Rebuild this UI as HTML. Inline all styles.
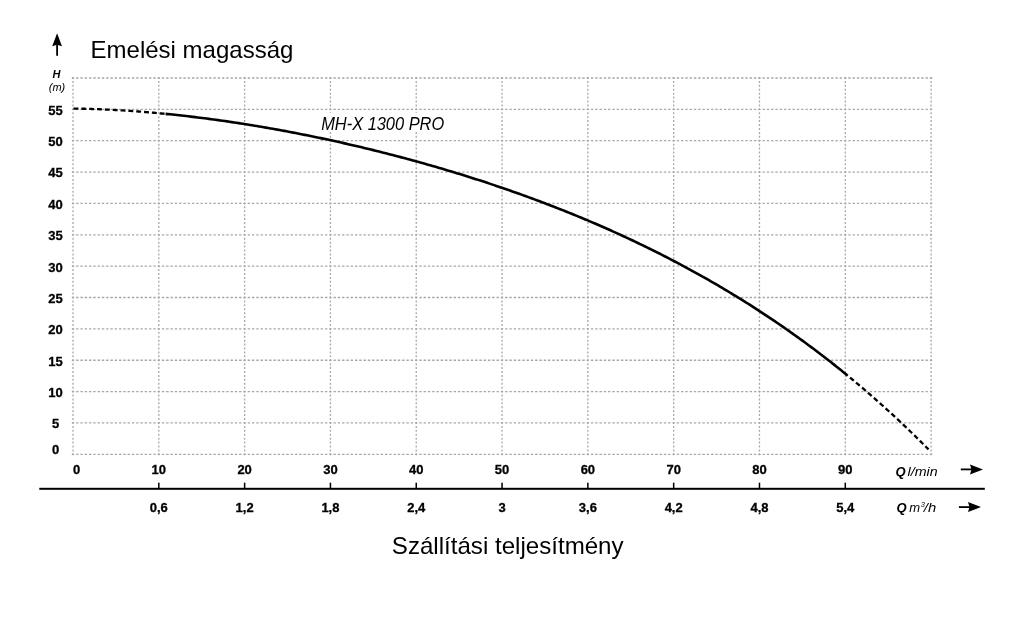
<!DOCTYPE html>
<html><head><meta charset="utf-8"><title>MH-X 1300 PRO</title>
<style>html,body{margin:0;padding:0;background:#fff}body{width:1024px;height:621px;overflow:hidden}svg{display:block;filter:grayscale(1)}</style>
</head><body>
<svg width="1024" height="621" viewBox="0 0 1024 621">
<rect width="1024" height="621" fill="#fff"/>
<g stroke="#a8a8a8" stroke-width="1.3" fill="none">
<line x1="73.00" y1="77.00" x2="73.00" y2="455.32" stroke-dasharray="2 1.920"/>
<line x1="158.81" y1="77.00" x2="158.81" y2="455.32" stroke-dasharray="2 1.920"/>
<line x1="244.62" y1="77.00" x2="244.62" y2="455.32" stroke-dasharray="2 1.920"/>
<line x1="330.43" y1="77.00" x2="330.43" y2="455.32" stroke-dasharray="2 1.920"/>
<line x1="416.24" y1="77.00" x2="416.24" y2="455.32" stroke-dasharray="2 1.920"/>
<line x1="502.05" y1="77.00" x2="502.05" y2="455.32" stroke-dasharray="2 1.920"/>
<line x1="587.86" y1="77.00" x2="587.86" y2="455.32" stroke-dasharray="2 1.920"/>
<line x1="673.67" y1="77.00" x2="673.67" y2="455.32" stroke-dasharray="2 1.920"/>
<line x1="759.48" y1="77.00" x2="759.48" y2="455.32" stroke-dasharray="2 1.920"/>
<line x1="845.29" y1="77.00" x2="845.29" y2="455.32" stroke-dasharray="2 1.920"/>
<line x1="931.10" y1="77.00" x2="931.10" y2="455.32" stroke-dasharray="2 1.920"/>
<line x1="71.80" y1="78.00" x2="932.30" y2="78.00" stroke-dasharray="2.4 1.890"/>
<line x1="71.80" y1="109.36" x2="932.30" y2="109.36" stroke-dasharray="2.4 1.890"/>
<line x1="71.80" y1="140.72" x2="932.30" y2="140.72" stroke-dasharray="2.4 1.890"/>
<line x1="71.80" y1="172.08" x2="932.30" y2="172.08" stroke-dasharray="2.4 1.890"/>
<line x1="71.80" y1="203.44" x2="932.30" y2="203.44" stroke-dasharray="2.4 1.890"/>
<line x1="71.80" y1="234.80" x2="932.30" y2="234.80" stroke-dasharray="2.4 1.890"/>
<line x1="71.80" y1="266.16" x2="932.30" y2="266.16" stroke-dasharray="2.4 1.890"/>
<line x1="71.80" y1="297.52" x2="932.30" y2="297.52" stroke-dasharray="2.4 1.890"/>
<line x1="71.80" y1="328.88" x2="932.30" y2="328.88" stroke-dasharray="2.4 1.890"/>
<line x1="71.80" y1="360.24" x2="932.30" y2="360.24" stroke-dasharray="2.4 1.890"/>
<line x1="71.80" y1="391.60" x2="932.30" y2="391.60" stroke-dasharray="2.4 1.890"/>
<line x1="71.80" y1="422.96" x2="932.30" y2="422.96" stroke-dasharray="2.4 1.890"/>
<line x1="71.80" y1="454.32" x2="932.30" y2="454.32" stroke-dasharray="2.4 1.890"/>
</g>
<path d="M73.50,108.56 L75.05,108.58 L76.59,108.61 L78.14,108.63 L79.68,108.66 L81.23,108.69 L82.77,108.73 L84.32,108.77 L85.87,108.81 L87.41,108.85 L88.96,108.89 L90.50,108.94 L92.05,108.99 L93.59,109.04 L95.14,109.09 L96.69,109.15 L98.23,109.21 L99.78,109.27 L101.32,109.33 L102.87,109.40 L104.42,109.46 L105.96,109.53 L107.51,109.60 L109.05,109.68 L110.60,109.76 L112.14,109.83 L113.69,109.92 L115.24,110.00 L116.78,110.08 L118.33,110.17 L119.87,110.26 L121.42,110.35 L122.96,110.45 L124.51,110.54 L126.06,110.64 L127.60,110.74 L129.15,110.85 L130.69,110.95 L132.24,111.06 L133.78,111.17 L135.33,111.28 L136.88,111.39 L138.42,111.51 L139.97,111.62 L141.51,111.74 L143.06,111.86 L144.61,111.99 L146.15,112.11 L147.70,112.24 L149.24,112.37 L150.79,112.50 L152.33,112.64 L153.88,112.77 L155.43,112.91 L156.97,113.05 L158.52,113.19 L160.06,113.34 L161.61,113.48 L163.15,113.63 L164.70,113.78" fill="none" stroke="#000" stroke-width="2.3" stroke-dasharray="4.9 2.95"/>
<path d="M165.60,113.87 L167.88,114.09 L170.16,114.32 L172.44,114.56 L174.73,114.80 L177.01,115.04 L179.29,115.29 L181.57,115.54 L183.85,115.80 L186.13,116.06 L188.41,116.32 L190.69,116.59 L192.98,116.86 L195.26,117.14 L197.54,117.42 L199.82,117.70 L202.10,117.99 L204.38,118.28 L206.66,118.58 L208.94,118.88 L211.23,119.18 L213.51,119.49 L215.79,119.80 L218.07,120.11 L220.35,120.43 L222.63,120.76 L224.91,121.08 L227.19,121.41 L229.48,121.75 L231.76,122.09 L234.04,122.43 L236.32,122.77 L238.60,123.12 L240.88,123.48 L243.16,123.83 L245.44,124.19 L247.73,124.56 L250.01,124.93 L252.29,125.30 L254.57,125.68 L256.85,126.05 L259.13,126.44 L261.41,126.82 L263.69,127.21 L265.98,127.61 L268.26,128.00 L270.54,128.41 L272.82,128.81 L275.10,129.22 L277.38,129.63 L279.66,130.05 L281.94,130.46 L284.23,130.89 L286.51,131.31 L288.79,131.74 L291.07,132.18 L293.35,132.61 L295.63,133.05 L297.91,133.50 L300.19,133.94 L302.48,134.40 L304.76,134.85 L307.04,135.31 L309.32,135.77 L311.60,136.23 L313.88,136.70 L316.16,137.17 L318.45,137.65 L320.73,138.13 L323.01,138.61 L325.29,139.10 L327.57,139.59 L329.85,140.08 L332.13,140.58 L334.41,141.08 L336.70,141.58 L338.98,142.09 L341.26,142.60 L343.54,143.11 L345.82,143.63 L348.10,144.15 L350.38,144.68 L352.66,145.20 L354.95,145.74 L357.23,146.27 L359.51,146.81 L361.79,147.35 L364.07,147.90 L366.35,148.45 L368.63,149.00 L370.91,149.56 L373.20,150.12 L375.48,150.68 L377.76,151.25 L380.04,151.82 L382.32,152.39 L384.60,152.97 L386.88,153.55 L389.16,154.14 L391.45,154.72 L393.73,155.32 L396.01,155.91 L398.29,156.51 L400.57,157.12 L402.85,157.72 L405.13,158.33 L407.41,158.95 L409.70,159.57 L411.98,160.19 L414.26,160.81 L416.54,161.44 L418.82,162.07 L421.10,162.71 L423.38,163.35 L425.66,163.99 L427.95,164.64 L430.23,165.29 L432.51,165.95 L434.79,166.61 L437.07,167.27 L439.35,167.94 L441.63,168.61 L443.92,169.28 L446.20,169.96 L448.48,170.64 L450.76,171.33 L453.04,172.02 L455.32,172.71 L457.60,173.41 L459.88,174.11 L462.17,174.82 L464.45,175.53 L466.73,176.24 L469.01,176.96 L471.29,177.68 L473.57,178.41 L475.85,179.14 L478.13,179.87 L480.42,180.61 L482.70,181.35 L484.98,182.10 L487.26,182.85 L489.54,183.61 L491.82,184.37 L494.10,185.13 L496.38,185.90 L498.67,186.67 L500.95,187.45 L503.23,188.23 L505.51,189.01 L507.79,189.80 L510.07,190.60 L512.35,191.40 L514.63,192.20 L516.92,193.01 L519.20,193.82 L521.48,194.64 L523.76,195.46 L526.04,196.28 L528.32,197.11 L530.60,197.95 L532.88,198.79 L535.17,199.63 L537.45,200.48 L539.73,201.34 L542.01,202.19 L544.29,203.06 L546.57,203.93 L548.85,204.80 L551.13,205.68 L553.42,206.56 L555.70,207.45 L557.98,208.34 L560.26,209.24 L562.54,210.14 L564.82,211.05 L567.10,211.96 L569.38,212.88 L571.67,213.80 L573.95,214.73 L576.23,215.66 L578.51,216.60 L580.79,217.55 L583.07,218.50 L585.35,219.45 L587.64,220.41 L589.92,221.38 L592.20,222.35 L594.48,223.32 L596.76,224.31 L599.04,225.29 L601.32,226.29 L603.60,227.28 L605.89,228.29 L608.17,229.30 L610.45,230.31 L612.73,231.34 L615.01,232.36 L617.29,233.40 L619.57,234.44 L621.85,235.48 L624.14,236.53 L626.42,237.59 L628.70,238.65 L630.98,239.72 L633.26,240.79 L635.54,241.88 L637.82,242.96 L640.10,244.06 L642.39,245.16 L644.67,246.26 L646.95,247.37 L649.23,248.49 L651.51,249.62 L653.79,250.75 L656.07,251.89 L658.35,253.03 L660.64,254.18 L662.92,255.34 L665.20,256.51 L667.48,257.68 L669.76,258.85 L672.04,260.04 L674.32,261.23 L676.60,262.43 L678.89,263.64 L681.17,264.85 L683.45,266.07 L685.73,267.29 L688.01,268.53 L690.29,269.77 L692.57,271.02 L694.85,272.27 L697.14,273.53 L699.42,274.80 L701.70,276.08 L703.98,277.37 L706.26,278.66 L708.54,279.96 L710.82,281.27 L713.11,282.58 L715.39,283.90 L717.67,285.23 L719.95,286.57 L722.23,287.92 L724.51,289.27 L726.79,290.64 L729.07,292.01 L731.36,293.38 L733.64,294.77 L735.92,296.16 L738.20,297.57 L740.48,298.98 L742.76,300.40 L745.04,301.82 L747.32,303.26 L749.61,304.70 L751.89,306.16 L754.17,307.62 L756.45,309.09 L758.73,310.57 L761.01,312.06 L763.29,313.55 L765.57,315.06 L767.86,316.57 L770.14,318.10 L772.42,319.63 L774.70,321.17 L776.98,322.72 L779.26,324.28 L781.54,325.85 L783.82,327.43 L786.11,329.01 L788.39,330.61 L790.67,332.22 L792.95,333.83 L795.23,335.46 L797.51,337.10 L799.79,338.74 L802.07,340.40 L804.36,342.06 L806.64,343.73 L808.92,345.42 L811.20,347.11 L813.48,348.82 L815.76,350.53 L818.04,352.26 L820.32,354.00 L822.61,355.74 L824.89,357.50 L827.17,359.27 L829.45,361.04 L831.73,362.83 L834.01,364.63 L836.29,366.44 L838.57,368.26 L840.86,370.09 L843.14,371.93 L845.42,373.79 L847.70,375.65" fill="none" stroke="#000" stroke-width="2.6"/>
<path d="M850.00,377.54 L851.33,378.64 L852.66,379.74 L853.99,380.85 L855.32,381.96 L856.65,383.07 L857.98,384.19 L859.31,385.32 L860.64,386.44 L861.97,387.57 L863.31,388.71 L864.64,389.84 L865.97,390.99 L867.30,392.13 L868.63,393.28 L869.96,394.44 L871.29,395.59 L872.62,396.76 L873.95,397.92 L875.28,399.09 L876.61,400.27 L877.94,401.44 L879.27,402.63 L880.60,403.81 L881.93,405.00 L883.26,406.20 L884.59,407.40 L885.92,408.60 L887.25,409.81 L888.58,411.02 L889.92,412.23 L891.25,413.45 L892.58,414.68 L893.91,415.91 L895.24,417.14 L896.57,418.38 L897.90,419.62 L899.23,420.86 L900.56,422.11 L901.89,423.37 L903.22,424.63 L904.55,425.89 L905.88,427.16 L907.21,428.43 L908.54,429.70 L909.87,430.99 L911.20,432.27 L912.53,433.56 L913.86,434.85 L915.19,436.15 L916.53,437.46 L917.86,438.76 L919.19,440.08 L920.52,441.39 L921.85,442.71 L923.18,444.04 L924.51,445.37 L925.84,446.71 L927.17,448.04 L928.50,449.39" fill="none" stroke="#000" stroke-width="2.3" stroke-dasharray="4.9 2.95"/>
<g font-family="Liberation Sans, sans-serif" font-weight="bold" font-size="13" stroke="#000" stroke-width="0.3" text-anchor="middle" fill="#000">
<text x="55.5" y="114.76">55</text>
<text x="55.5" y="146.12">50</text>
<text x="55.5" y="177.48">45</text>
<text x="55.5" y="208.84">40</text>
<text x="55.5" y="240.20">35</text>
<text x="55.5" y="271.56">30</text>
<text x="55.5" y="302.92">25</text>
<text x="55.5" y="334.28">20</text>
<text x="55.5" y="365.64">15</text>
<text x="55.5" y="397.00">10</text>
<text x="55.5" y="428.36">5</text>
<text x="55.5" y="454.32">0</text>
</g>
<g font-family="Liberation Sans, sans-serif" font-weight="bold" font-size="13" stroke="#000" stroke-width="0.3" text-anchor="middle" fill="#000">
<text x="73.00" y="473.6" text-anchor="start">0</text>
<text x="158.81" y="473.6">10</text>
<text x="244.62" y="473.6">20</text>
<text x="330.43" y="473.6">30</text>
<text x="416.24" y="473.6">40</text>
<text x="502.05" y="473.6">50</text>
<text x="587.86" y="473.6">60</text>
<text x="673.67" y="473.6">70</text>
<text x="759.48" y="473.6">80</text>
<text x="845.29" y="473.6">90</text>
<text x="158.81" y="512">0,6</text>
<text x="244.62" y="512">1,2</text>
<text x="330.43" y="512">1,8</text>
<text x="416.24" y="512">2,4</text>
<text x="502.05" y="512">3</text>
<text x="587.86" y="512">3,6</text>
<text x="673.67" y="512">4,2</text>
<text x="759.48" y="512">4,8</text>
<text x="845.29" y="512">5,4</text>
</g>
<rect x="39.3" y="487.8" width="945.5" height="2" fill="#000"/>
<rect x="158.06" y="482.7" width="1.5" height="6" fill="#000"/>
<rect x="243.87" y="482.7" width="1.5" height="6" fill="#000"/>
<rect x="329.68" y="482.7" width="1.5" height="6" fill="#000"/>
<rect x="415.49" y="482.7" width="1.5" height="6" fill="#000"/>
<rect x="501.30" y="482.7" width="1.5" height="6" fill="#000"/>
<rect x="587.11" y="482.7" width="1.5" height="6" fill="#000"/>
<rect x="672.92" y="482.7" width="1.5" height="6" fill="#000"/>
<rect x="758.73" y="482.7" width="1.5" height="6" fill="#000"/>
<rect x="844.54" y="482.7" width="1.5" height="6" fill="#000"/>
<text x="895.5" y="475.6" font-family="Liberation Sans, sans-serif" fill="#000" font-weight="bold" font-style="italic" font-size="13">Q</text>
<text x="907.6" y="475.6" font-family="Liberation Sans, sans-serif" fill="#000" font-style="italic" font-size="13" textLength="30" lengthAdjust="spacingAndGlyphs">l/min</text>
<text x="896.5" y="512.1" font-family="Liberation Sans, sans-serif" fill="#000" font-weight="bold" font-style="italic" font-size="13">Q</text>
<text x="909.2" y="512.1" font-family="Liberation Sans, sans-serif" fill="#000" font-style="italic" font-size="13">m</text>
<text x="920.8" y="507.4" font-family="Liberation Sans, sans-serif" fill="#000" font-style="italic" font-size="7.5">3</text>
<text x="923.8" y="512.1" font-family="Liberation Sans, sans-serif" fill="#000" font-style="italic" font-size="13" textLength="12.4" lengthAdjust="spacingAndGlyphs">/h</text>
<line x1="960.8" y1="469.4" x2="975" y2="469.4" stroke="#000" stroke-width="1.8"/><path d="M983,469.4 L970,464.4 L971.5,469.4 L970,474.4 Z" fill="#000"/>
<line x1="958.9" y1="507.1" x2="973" y2="507.1" stroke="#000" stroke-width="1.8"/><path d="M981,507.1 L968,502.1 L969.5,507.1 L968,512.1 Z" fill="#000"/>
<line x1="57.1" y1="55.7" x2="57.1" y2="43" stroke="#000" stroke-width="1.8"/>
<path d="M57.1,33.2 L62,46.3 L57.1,44.8 L52.2,46.3 Z" fill="#000"/>
<text x="56.6" y="77.6" text-anchor="middle" font-family="Liberation Sans, sans-serif" font-weight="bold" font-style="italic" font-size="11" fill="#000">H</text>
<text x="57" y="91" text-anchor="middle" font-family="Liberation Sans, sans-serif" font-style="italic" font-size="11" fill="#000">(m)</text>
<text x="90.6" y="57.8" font-family="Liberation Sans, sans-serif" font-size="24" fill="#000">Emelési magasság</text>
<text x="391.8" y="554.1" font-family="Liberation Sans, sans-serif" font-size="24" textLength="231.8" lengthAdjust="spacingAndGlyphs" fill="#000">Szállítási teljesítmény</text>
<rect x="318" y="113" width="130" height="18.5" fill="#fff"/>
<text x="321.2" y="129.6" font-family="Liberation Sans, sans-serif" font-style="italic" font-size="17.5" textLength="123" lengthAdjust="spacingAndGlyphs" fill="#000">MH-X 1300 PRO</text>
</svg>
</body></html>
